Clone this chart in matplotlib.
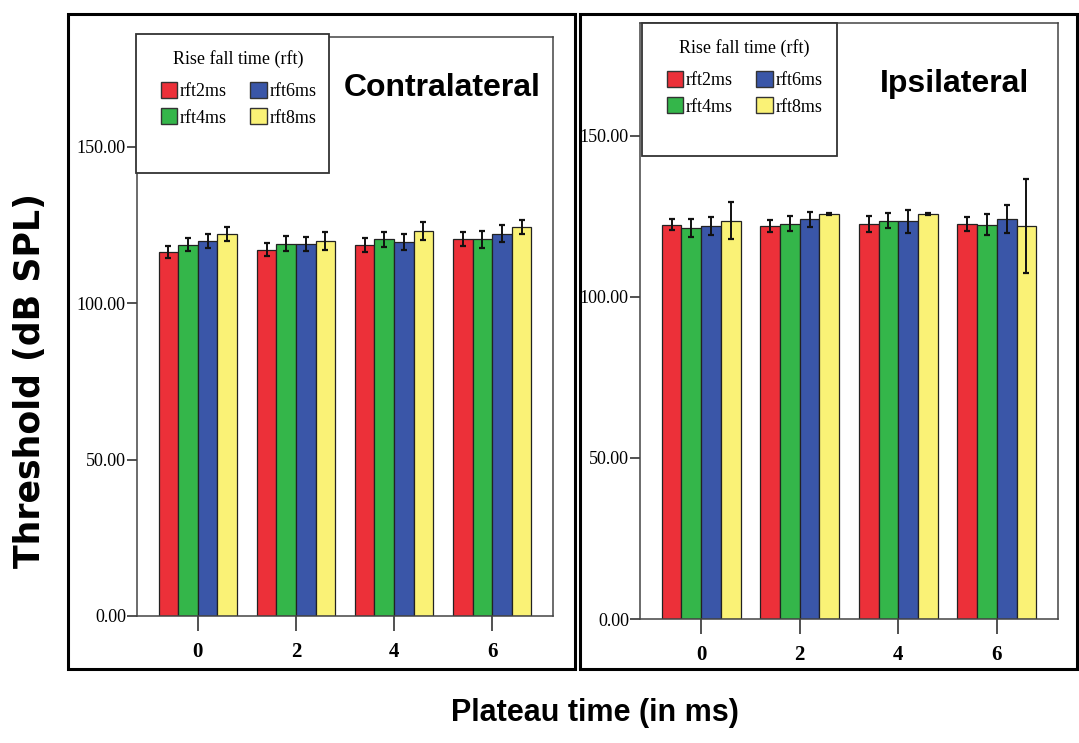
import numpy as np
import matplotlib
matplotlib.use("Agg")
import matplotlib.pyplot as plt
from matplotlib.patches import Rectangle, Patch

# plateau time groups and rise/fall time series
plateau = ["0", "2", "4", "6"]
series = ["rft2ms", "rft4ms", "rft6ms", "rft8ms"]
colors = ["#EC3039", "#34B64A", "#3A56A8", "#FAF276"]

# contralateral thresholds (dB SPL) and error bars
contra_means = [
    [116.3, 117.1, 118.5, 120.4],   # rft2ms
    [118.7, 119.0, 120.3, 120.4],   # rft4ms
    [119.8, 118.9, 119.6, 122.2],   # rft6ms
    [122.1, 119.7, 123.0, 124.3],   # rft8ms
]
contra_err = [
    [2.0, 2.2, 2.3, 2.3],
    [2.0, 2.5, 2.3, 2.7],
    [2.3, 2.2, 2.5, 2.7],
    [2.2, 2.9, 2.8, 2.3],
]

# ipsilateral thresholds (dB SPL) and error bars
ipsi_means = [
    [122.4, 122.0, 122.7, 122.7],
    [121.3, 122.7, 123.6, 122.4],
    [122.0, 124.1, 123.4, 124.1],
    [123.6, 125.8, 125.8, 122.0],
]
ipsi_err = [
    [1.8, 2.0, 2.5, 2.2],
    [2.8, 2.3, 2.3, 3.2],
    [2.9, 2.3, 3.6, 4.4],
    [5.7, 0.3, 0.3, 14.5],
]

yticks = [0, 50, 100, 150]

W, H = 1079, 743
fig = plt.figure(figsize=(W / 100, H / 100), dpi=100)


def px(x0, y0, x1, y1):
    # pixel box (top-left origin) -> figure fraction rect
    return [x0 / W, 1 - y1 / H, (x1 - x0) / W, (y1 - y0) / H]


serif = "Liberation Serif"
heavy = "Liberation Sans"


def panel(rect, means, errs, title, title_xy, leg_box):
    ax = fig.add_axes(rect)
    x = np.arange(len(plateau))
    width = 0.2
    for i, name in enumerate(series):
        ax.bar(x + (i - 1.5) * width, means[i], width, color=colors[i],
               edgecolor="#222222", linewidth=0.9, label=name, zorder=2)
        ax.errorbar(x + (i - 1.5) * width, means[i], yerr=errs[i], fmt="none",
                    ecolor="#111111", elinewidth=1.4, capsize=2.5,
                    capthick=1.6, zorder=3)
    ax.set_xlim(-0.62, 3.62)
    ax.set_ylim(0, 185)
    ax.set_xticks(x)
    ax.set_xticklabels(plateau, fontfamily=serif, fontweight="bold",
                       fontsize=15)
    ax.set_yticks(yticks)
    ax.set_yticklabels([f"{v:.2f}" for v in yticks], fontfamily=serif,
                       fontsize=13)
    ax.tick_params(axis="x", length=11, width=1.2, color="#333333", pad=8)
    ax.tick_params(axis="y", length=7, width=1.2, color="#333333", pad=1)
    for s in ax.spines.values():
        s.set_color("#444444")
        s.set_linewidth(1.1)

    # legend box
    x0, y0, x1, y1 = leg_box
    fig.patches.append(Rectangle((x0 / W, 1 - y1 / H), (x1 - x0) / W,
                                 (y1 - y0) / H, transform=fig.transFigure,
                                 facecolor="white", edgecolor="#333333",
                                 linewidth=1.3, zorder=5))
    handles = [Patch(facecolor=c, edgecolor="#333333", linewidth=1.0)
               for c in colors]
    leg = fig.legend(handles, series, loc="upper left",
                     bbox_to_anchor=((x0 + 16) / W, 1 - (y0 + 7) / H),
                     bbox_transform=fig.transFigure, ncol=2, frameon=False,
                     title="Rise fall time (rft)",
                     prop={"family": serif, "size": 13},
                     title_fontproperties={"family": serif, "size": 13},
                     handlelength=0.9, handleheight=1.0, handletextpad=0.15,
                     columnspacing=1.3, labelspacing=0.45, borderpad=0)
    leg._legend_box.sep = 10
    leg.set_zorder(6)

    fig.text(title_xy[0] / W, 1 - title_xy[1] / H, title, family=heavy,
             fontweight="bold", fontsize=23, ha="center", va="center")
    return ax


panel(px(137, 37, 553, 616), contra_means, contra_err, "Contralateral",
      (442, 88), (136, 34, 329, 173))
panel(px(640, 23, 1058, 619), ipsi_means, ipsi_err, "Ipsilateral",
      (955, 84), (642, 23, 837, 156))

# outer frames
for box in [(68, 14, 575, 669), (580, 14, 1077, 669)]:
    x0, y0, x1, y1 = box
    fig.patches.append(Rectangle((x0 / W, 1 - y1 / H), (x1 - x0) / W,
                                 (y1 - y0) / H, transform=fig.transFigure,
                                 fill=False, edgecolor="black", linewidth=2.2,
                                 zorder=1))

fig.text(30 / W, 1 - 380 / H, "Threshold (dB SPL)", rotation=90,
         family="DejaVu Sans", fontweight="bold", fontsize=25,
         ha="center", va="center")
fig.text(595 / W, 1 - 713 / H, "Plateau time (in ms)", family=heavy,
         fontweight="bold", fontsize=22, ha="center", va="center")

fig.savefig("out.png", dpi=100)
